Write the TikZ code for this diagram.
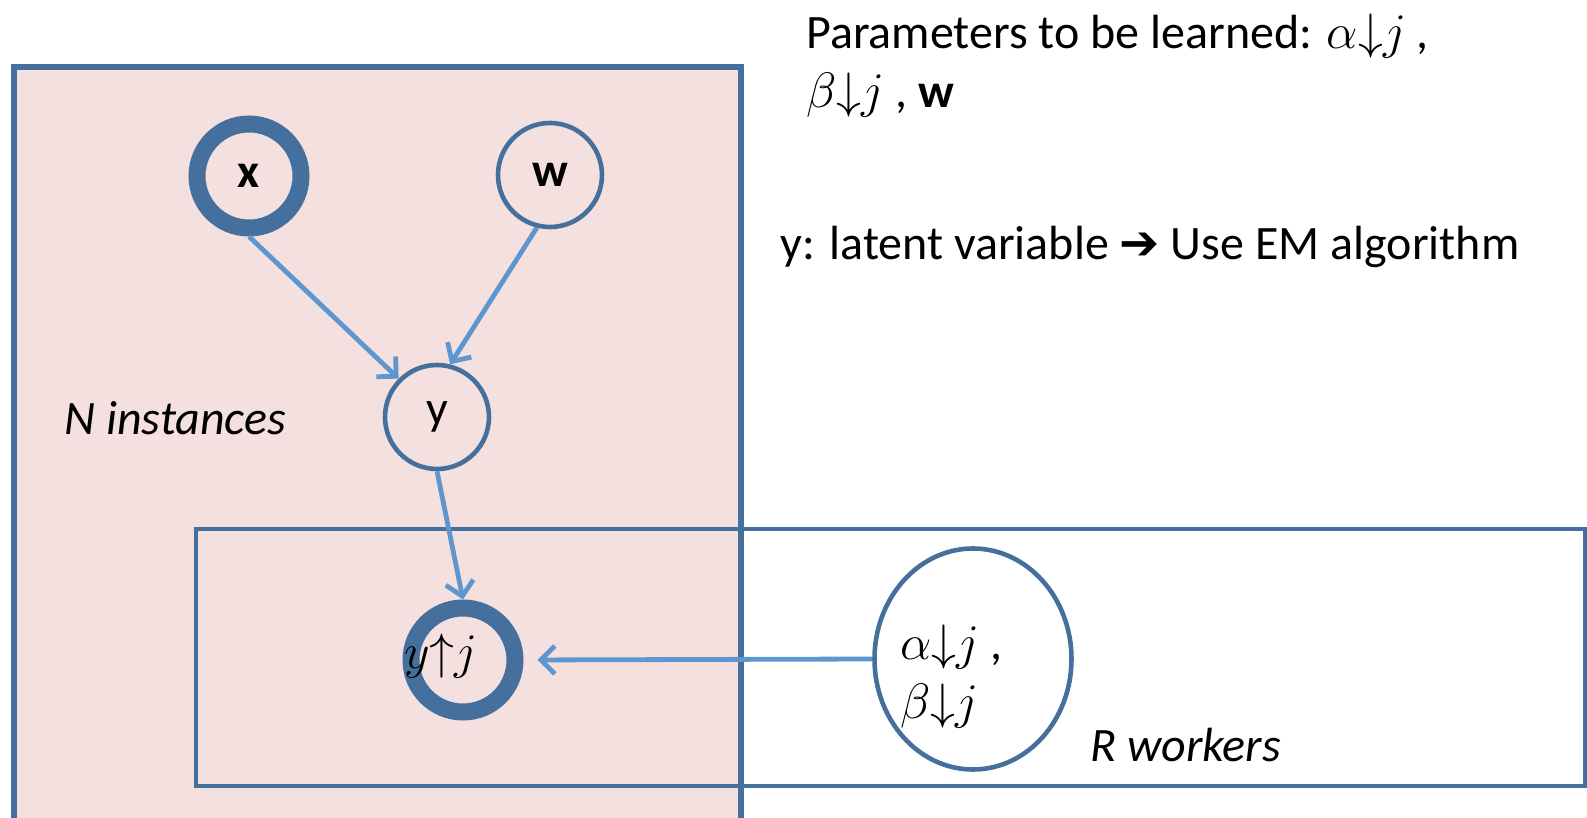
\documentclass[tikz,border=0pt]{standalone}
\usepackage{fontspec}
\setmainfont{Carlito}
\newfontfamily\arrowfont{DejaVu Sans}
\usepackage{tikz}
\usetikzlibrary{arrows.meta,positioning,shapes.geometric}
\definecolor{plateblue}{RGB}{69,112,158}
\definecolor{platepink}{RGB}{243,224,223}
\definecolor{linkblue}{RGB}{94,151,207}

\begin{document}
\begin{tikzpicture}[
    x=0.5pt, y=-0.5pt,
    txt/.style={font=\fontsize{24}{29.5}\selectfont, inner sep=0pt, align=left},
    plate/.style={draw=plateblue, line width=2.8pt, fill=platepink},
    workers/.style={draw=plateblue, line width=2.3pt},
    var/.style={circle, draw=plateblue, line width=2.3pt, minimum size=52pt, inner sep=0pt, font=\fontsize{24}{29.5}\selectfont},
    obs/.style={var, line width=8.5pt},
    param/.style={ellipse, draw=plateblue, line width=2.3pt, minimum width=98.5pt, minimum height=110.5pt, inner sep=0pt},
    link/.style={-{Straight Barb[length=7pt,width=14pt]}, line width=2.4pt, linkblue},
    mlab/.style={font=\fontsize{24}{29.5}\selectfont, inner sep=0pt, align=left}
]
\useasboundingbox (0,0) rectangle (1587,818);

% ============ plates ============
\draw[plate] (14,67) rectangle (741,840);
\draw[workers] (196,529) rectangle (1585,786);
\draw[plate, fill=none] (741,529) -- (741,840);

\node[txt, anchor=base west, font=\fontsize{24}{29.5}\selectfont\itshape] (n-label) at (64,435) {N instances};
\node[txt, anchor=base west, font=\fontsize{24}{29.5}\selectfont\itshape] (r-label) at (1090,761) {R workers};

% ============ variables ============
\node[obs] (x) at (249,176) {\textbf{x}};
\node[var] (w) at (550,175) {\textbf{w}};
\node[var] (y) at (437,417) {y};
\node[obs] (yj) at (463,660) {};
\node[mlab] (yj-text) at (441,656) {$y{\uparrow}j$};
\node[param] (ab) at (973,659) {};
\node[mlab, anchor=west] (ab-text) at (900,677) {$\alpha{\downarrow}j$ ,\\$\beta{\downarrow}j$};

\draw[link] (x.south) -- (y.135);
\draw[link] (w.256) -- (y.76);
\draw[link] (y.south) -- (yj.north);
\draw[link, shorten >=7pt] (ab.west) -- (yj.east);

% ============ notes ============
\node[txt, anchor=base west] (params) at (806,108) {Parameters to be learned: $\alpha{\downarrow}j$ ,\\$\beta{\downarrow}j$ , \textbf{w}};
\node[txt, anchor=base west] (em-note) at (780,260) {y: latent variable {\arrowfont ➔} Use EM algorithm};

\end{tikzpicture}
\end{document}
